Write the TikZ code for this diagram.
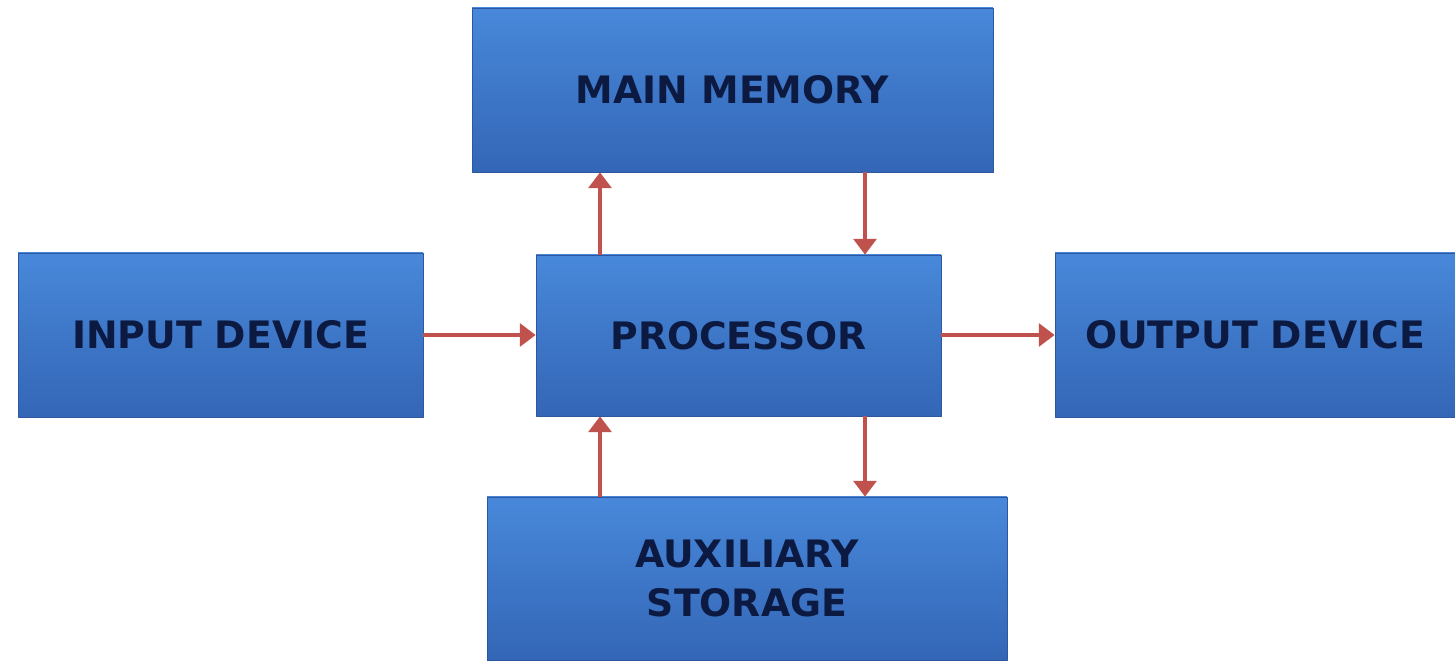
\documentclass[tikz,border=0pt]{standalone}
\usepackage{fontspec}
\setmainfont{DejaVu Sans}
\usepackage{tikz}
\usetikzlibrary{arrows.meta}
\definecolor{boxtop}{RGB}{72,136,218}
\definecolor{boxbot}{RGB}{52,102,182}
\definecolor{boxedge}{RGB}{45,88,160}
\definecolor{txtnavy}{RGB}{12,26,66}
\definecolor{arrred}{RGB}{192,82,78}

\begin{document}
\begin{tikzpicture}[line cap=round, line join=round,
                    x=1cm, y=1cm, scale=1,
    unit/.style={rectangle, top color=boxtop, bottom color=boxbot,
                 draw=boxedge, line width=0.4pt, inner sep=0pt,
                 align=center, text=txtnavy,
                 font=\fontsize{21.5}{28}\selectfont\bfseries},
    flow/.style={draw=arrred, line width=2.1pt, line cap=butt,
                 -{Triangle[length=9pt,width=13pt]}}]
\useasboundingbox (0,0) rectangle (29.1,13.22);
\node [unit, minimum width=10.42cm, minimum height=3.28cm] (mem) at (14.65,11.42) {MAIN MEMORY};
\node [unit, minimum width=8.10cm, minimum height=3.28cm] (inp) at (4.41,6.52) {INPUT DEVICE};
\node [unit, minimum width=8.10cm, minimum height=3.22cm] (proc) at (14.77,6.51) {PROCESSOR};
\node [unit, minimum width=8.00cm, minimum height=3.28cm] (out) at (25.10,6.52) {OUTPUT DEVICE};
\node [unit, minimum width=10.40cm, minimum height=3.26cm] (aux) at (14.94,1.65) {AUXILIARY\\STORAGE};
\coordinate (lx) at (12.0,0);
\coordinate (rx) at (17.3,0);
\draw [flow] (inp.east) -- (proc.west |- inp.east);
\draw [flow] (proc.east |- out.west) -- (out.west);
\draw [flow] (proc.north -| lx) -- (mem.south -| lx);
\draw [flow] (mem.south -| rx) -- (proc.north -| rx);
\draw [flow] (aux.north -| lx) -- (proc.south -| lx);
\draw [flow] (proc.south -| rx) -- (aux.north -| rx);
\end{tikzpicture}
\end{document}
